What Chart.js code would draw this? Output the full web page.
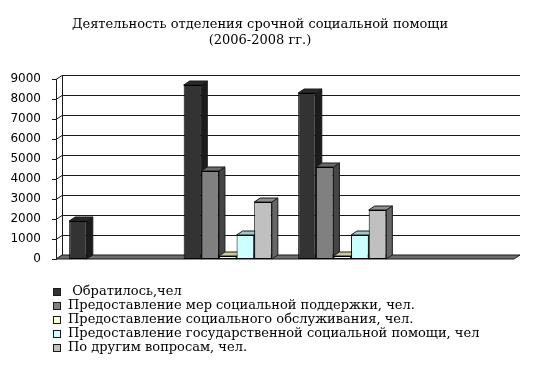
<!DOCTYPE html>
<html>
<head>
<meta charset="utf-8">
<script src="https://cdn.jsdelivr.net/npm/chart.js@4/dist/chart.umd.min.js"></script>
<style>
  html, body { margin: 0; background: #fff; }
  #wrap { width: 545px; height: 373px; }
</style>
</head>
<body>
<div id="wrap"><canvas id="chart"></canvas></div>
<script>
// Data (no category labels are shown in the source)
const titleLines = ['Деятельность отделения срочной социальной помощи', '(2006-2008 гг.)'];
const categories = ['', '', '', ''];
const seriesNames = [
  ' Обратилось,чел',
  'Предоставление мер социальной поддержки, чел.',
  'Предоставление социального обслуживания, чел.',
  'Предоставление государственной социальной помощи, чел',
  'По другим вопросам, чел.'
];
const appealed = [1900, 8700, 8300, 0];
const supportMeasures = [0, 4400, 4600, 0];
const socialService = [0, 150, 150, 0];
const stateAid = [0, 1200, 1200, 0];
const otherIssues = [0, 2850, 2450, 0];
const yMax = 9000;
const yStep = 1000;

const c = {
  front: ['#333333', '#808080', '#ffffcc', '#ccffff', '#c0c0c0'],
  side:  ['#1c1c1c', '#454545', '#8a8a6a', '#6f8f8f', '#666666'],
  top:   ['#2a2a2a', '#6a6a6a', '#cccc99', '#99cccc', '#8f8f8f'],
  line: '#1a1a1a',
  floor: '#6e6e6e'
};
const dx = 6, dy = 4;

// 3D faces, wall grid, floor, title and legend
const box3d = {
  id: 'box3d',
  beforeDatasetsDraw(chart) {
    const { ctx, chartArea: a, scales: { y } } = chart;
    ctx.save();
    ctx.strokeStyle = c.line;
    ctx.lineWidth = 1;
    y.ticks.forEach(t => {
      const py = Math.round(y.getPixelForValue(t.value)) + 0.5;
      ctx.beginPath();
      ctx.moveTo(a.left - 4, py);
      ctx.lineTo(a.left, py);
      ctx.lineTo(a.left + dx, py - dy);
      ctx.lineTo(a.right + dx, py - dy);
      ctx.stroke();
    });
    ctx.beginPath();
    ctx.moveTo(a.left + 0.5, a.top);
    ctx.lineTo(a.left + 0.5, a.bottom);
    ctx.moveTo(a.left + dx + 0.5, a.top - dy);
    ctx.lineTo(a.left + dx + 0.5, a.bottom - dy);
    ctx.stroke();

    // floor
    ctx.fillStyle = c.floor;
    ctx.beginPath();
    ctx.moveTo(a.left, a.bottom);
    ctx.lineTo(a.right, a.bottom);
    ctx.lineTo(a.right + dx, a.bottom - dy);
    ctx.lineTo(a.left + dx, a.bottom - dy);
    ctx.closePath();
    ctx.fill();
    ctx.stroke();

    chart.data.datasets.forEach((ds, i) => {
      chart.getDatasetMeta(i).data.forEach((bar, j) => {
        if (!ds.data[j]) return;
        const p = bar.getProps(['x', 'y', 'base', 'width'], true);
        const l = p.x - p.width / 2, r = p.x + p.width / 2;
        ctx.fillStyle = c.side[i];
        ctx.beginPath();
        ctx.moveTo(r, p.y);
        ctx.lineTo(r + dx, p.y - dy);
        ctx.lineTo(r + dx, p.base - dy);
        ctx.lineTo(r, p.base);
        ctx.closePath();
        ctx.fill();
        ctx.stroke();
        ctx.fillStyle = c.top[i];
        ctx.beginPath();
        ctx.moveTo(l, p.y);
        ctx.lineTo(l + dx, p.y - dy);
        ctx.lineTo(r + dx, p.y - dy);
        ctx.lineTo(r, p.y);
        ctx.closePath();
        ctx.fill();
        ctx.stroke();
      });
    });
    ctx.restore();
  },
  afterDraw(chart) {
    const ctx = chart.ctx;
    ctx.save();
    ctx.fillStyle = '#000';
    ctx.textAlign = 'center';
    ctx.textBaseline = 'middle';
    ctx.font = '13px "DejaVu Serif"';
    titleLines.forEach((t, i) => ctx.fillText(t, 260, 25 + i * 16));

    ctx.textAlign = 'left';
    ctx.font = '13px "DejaVu Serif"';
    chart.data.datasets.forEach((ds, i) => {
      const yc = 292 + i * 14;
      ctx.fillStyle = c.front[i];
      ctx.fillRect(53, yc - 4, 8, 8);
      ctx.strokeStyle = c.line;
      ctx.strokeRect(53.5, yc - 3.5, 7, 7);
      ctx.fillStyle = '#000';
      ctx.fillText(ds.label, 68, yc);
    });
    ctx.restore();
  }
};

const series = [appealed, supportMeasures, socialService, stateAid, otherIssues];

new Chart(document.getElementById('chart'), {
  type: 'bar',
  data: {
    labels: categories,
    datasets: series.map((d, i) => ({
      label: seriesNames[i],
      data: d,
      backgroundColor: c.front[i],
      borderColor: '#000',
      borderWidth: 1,
      borderSkipped: false,
      barPercentage: 1,
      categoryPercentage: 0.77
    }))
  },
  options: {
    responsive: true,
    maintainAspectRatio: false,
    animation: false,
    layout: { padding: { top: 79, right: 31, bottom: 114, left: 0 } },
    plugins: { legend: { display: false }, title: { display: false }, tooltip: { enabled: false } },
    scales: {
      x: { display: false },
      y: {
        min: 0,
        max: yMax,
        afterFit(s) { s.width = 56; },
        grid: { display: false },
        border: { display: false },
        ticks: {
          stepSize: yStep,
          padding: 7,
          color: '#000',
          font: { family: 'DejaVu Sans', size: 12 },
          callback: v => String(v)
        }
      }
    }
  },
  plugins: [box3d]
});
</script>
</body>
</html>
